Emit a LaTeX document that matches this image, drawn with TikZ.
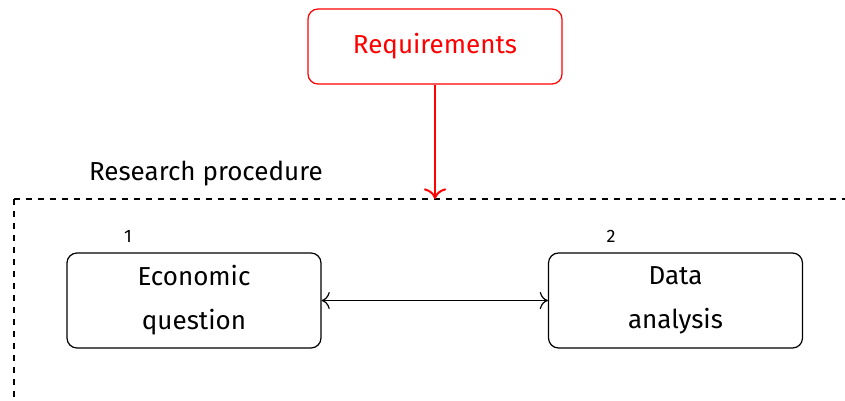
\documentclass[tikz,border=0pt]{standalone}
\usepackage{fontspec}
\setmainfont{Fira Sans}
\usetikzlibrary{arrows.meta}

\begin{document}
\begin{tikzpicture}[x=0.5pt,y=0.5pt,>={To[scale=1.4]},
  box/.style={draw=black,semithick,rounded corners=5pt,minimum width=127pt,minimum height=47.5pt,
    align=center,font=\fontsize{13pt}{22pt}\selectfont},
  reqbox/.style={box,draw=red,text=red,minimum height=37.5pt},
  frame/.style={draw=black,line width=1pt,dashed},
  num/.style={font=\fontsize{9pt}{11pt}\selectfont}]
\useasboundingbox (0,0) rectangle (845,-401);
% top box
\node [reqbox] (req) at (435,-46.5) {Requirements};
% frame
\coordinate (corner) at (14,-199);
\coordinate (entry) at (435,-199);
\draw [frame] (corner) -- (845,-199);
\draw [frame] (corner) -- (14,-401);
\node [font=\fontsize{13pt}{16pt}\selectfont,anchor=west] (title) at (82,-174) {Research procedure};
\draw [red,line width=1pt,->] (req) -- (entry);
% steps
\node [box] (econ) at (194,-300.5) {Economic\\question};
\node [box] (data) at (675.5,-300.5) {Data\\analysis};
\node [num] (n1) at (128,-236) {1};
\node [num] (n2) at (611,-236) {2};
\draw [semithick,<->] (econ) -- (data);
\end{tikzpicture}
\end{document}
